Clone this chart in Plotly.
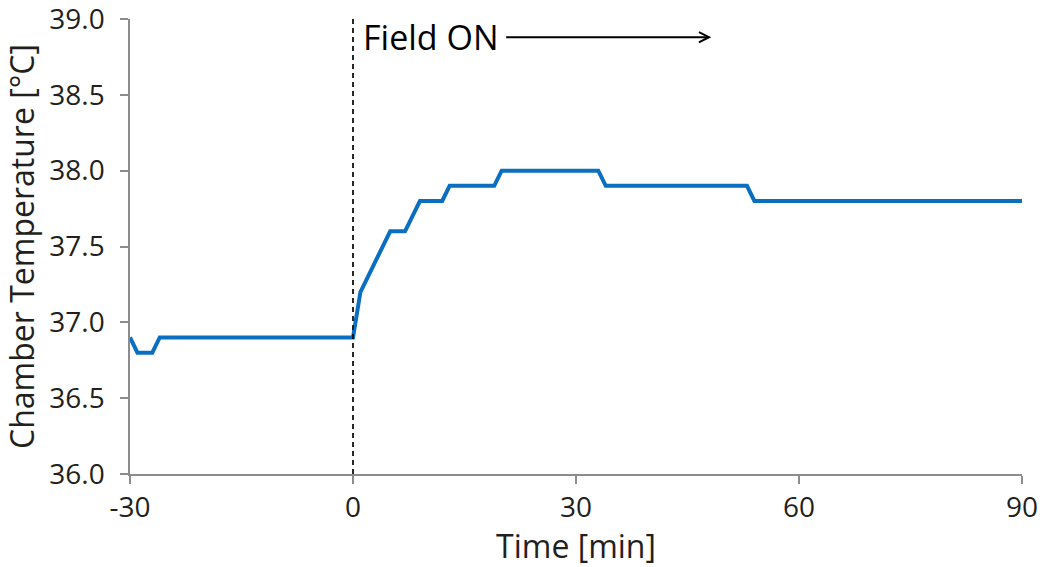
import plotly.graph_objects as go

# Data (breakpoints)
time_min = [-30, -29, -27, -26, 0, 1, 5, 7, 9, 12, 13, 19, 20, 33, 34, 53, 54, 90]
temp_c = [36.9, 36.8, 36.8, 36.9, 36.9, 37.2, 37.6, 37.6, 37.8, 37.8, 37.9, 37.9,
          38.0, 38.0, 37.9, 37.9, 37.8, 37.8]

x_ticks = [-30, 0, 30, 60, 90]
y_ticks = [36.0, 36.5, 37.0, 37.5, 38.0, 38.5, 39.0]
x_range = [-30.0001, 90.0001]
y_range = [35.9999, 39.0001]

FONT = "Open Sans"
AXIS_GRAY = "#8c8c8c"
TEXT = "#231f20"

fig = go.Figure()
fig.add_trace(go.Scatter(
    x=time_min, y=temp_c, mode="lines",
    line=dict(color="#0a6fc0", width=4),
    showlegend=False, hoverinfo="skip",
))

# Field ON marker (dashed vertical line at t=0)
fig.add_shape(type="line", xref="x", yref="y", x0=0, x1=0, y0=36.0, y1=39.0,
              line=dict(color="#111111", width=1.8, dash="5px,4px"), layer="above")

# Arrow
fig.add_annotation(x=48.2, y=38.88, ax=20.4, ay=38.88, xref="x", yref="y", axref="x", ayref="y",
                   showarrow=True, arrowhead=5, arrowsize=1, arrowwidth=2, arrowcolor="black", text="")
fig.add_annotation(x=1.1, y=38.88, xref="x", yref="y", text="Field ON", showarrow=False,
                   xanchor="left", yanchor="middle", font=dict(family=FONT, size=34, color="black"))

fig.update_layout(
    width=1046, height=567,
    margin=dict(l=130, r=24, t=19, b=93),
    paper_bgcolor="white", plot_bgcolor="white",
    font=dict(family=FONT, color=TEXT),
    xaxis=dict(
        range=x_range, tickvals=x_ticks, ticktext=[str(v) for v in x_ticks],
        showline=True, linecolor=AXIS_GRAY, linewidth=1.5, showgrid=False, zeroline=False,
        ticks="outside", ticklen=8, tickcolor=AXIS_GRAY, tickwidth=1.5,
        tickfont=dict(size=28, family=FONT, color=TEXT), ticklabeloverflow="allow",
        automargin=False,
        title=dict(text="Time [min]", font=dict(size=32, family=FONT, color=TEXT), standoff=0),
    ),
    yaxis=dict(
        range=y_range, tickvals=y_ticks, ticktext=[f"{v:.1f}" for v in y_ticks],
        showline=True, linecolor=AXIS_GRAY, linewidth=1.5, showgrid=False, zeroline=False,
        ticks="outside", ticklen=8, tickcolor=AXIS_GRAY, tickwidth=1.5,
        tickfont=dict(size=28, family=FONT, color=TEXT), ticklabelstandoff=10,
        ticklabeloverflow="allow", automargin=False,
        title=dict(text="Chamber Temperature [°C]", font=dict(size=32, family=FONT, color=TEXT), standoff=5),
    ),
)

fig.write_html("out.html", config={"displayModeBar": False},
               post_script="document.body.style.margin='0';document.body.style.overflow='hidden';")
